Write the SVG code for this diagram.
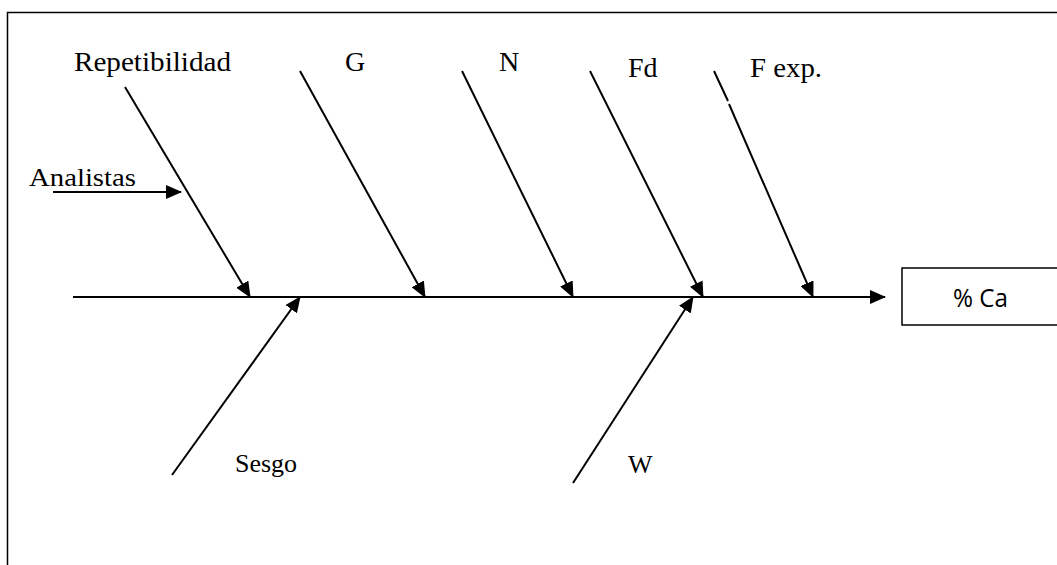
<svg xmlns="http://www.w3.org/2000/svg" width="1057" height="565" viewBox="0 0 1057 565">
<style>
.t{font-family:"Liberation Serif","Times New Roman",serif;font-size:26px;fill:#000}
.b{font-size:28px}
.s{font-family:"Open Sans","Liberation Sans",Arial,sans-serif;font-size:25px;fill:#000}
.ln{stroke:#000;stroke-width:2;fill:none}
</style>
<defs>
<marker id="ah" markerUnits="userSpaceOnUse" markerWidth="16" markerHeight="14" viewBox="0 0 16 14" refX="15" refY="7" orient="auto">
<path d="M0,0 L16,7 L0,14 Z" fill="#000"/>
</marker>
</defs>
<rect width="1057" height="565" fill="#fff"/>
<path d="M7.5,565 V12.5 H1057" stroke="#000" stroke-width="1.5" fill="none"/>
<g id="connectors">
<line class="ln" x1="73" y1="297" x2="885" y2="297" marker-end="url(#ah)"/>
<line class="ln" x1="125" y1="87" x2="250" y2="297" marker-end="url(#ah)"/>
<line class="ln" x1="300" y1="71" x2="425" y2="297" marker-end="url(#ah)"/>
<line class="ln" x1="462" y1="71" x2="573" y2="297" marker-end="url(#ah)"/>
<line class="ln" x1="590" y1="71" x2="703" y2="297" marker-end="url(#ah)"/>
<line class="ln" x1="714" y1="71" x2="728" y2="101"/>
<line class="ln" x1="729" y1="104" x2="813" y2="297" marker-end="url(#ah)"/>
<line class="ln" x1="53" y1="192" x2="181" y2="192" marker-end="url(#ah)"/>
<line class="ln" x1="172" y1="475" x2="300" y2="297" marker-end="url(#ah)"/>
<line class="ln" x1="573" y1="483" x2="693" y2="297" marker-end="url(#ah)"/>
</g>
<g id="n-repetibilidad"><text class="t b" x="74" y="71" textLength="157" lengthAdjust="spacingAndGlyphs">Repetibilidad</text></g>
<g id="n-g"><text class="t b" x="345" y="71">G</text></g>
<g id="n-n"><text class="t b" x="499" y="71">N</text></g>
<g id="n-fd"><text class="t b" x="628" y="77">Fd</text></g>
<g id="n-fexp"><text class="t b" x="750" y="77" textLength="72" lengthAdjust="spacingAndGlyphs">F exp.</text></g>
<g id="n-analistas"><text class="t" x="29" y="186" textLength="107" lengthAdjust="spacingAndGlyphs">Analistas</text></g>
<g id="n-sesgo"><text class="t" x="235" y="472">Sesgo</text></g>
<g id="n-w"><text class="t" x="628" y="473">W</text></g>
<g id="n-ca">
<rect x="902" y="268" width="160" height="57" fill="#fff" stroke="#000" stroke-width="1.5"/>
<text class="s" x="953" y="307" textLength="55" lengthAdjust="spacingAndGlyphs">% Ca</text>
</g>
</svg>
